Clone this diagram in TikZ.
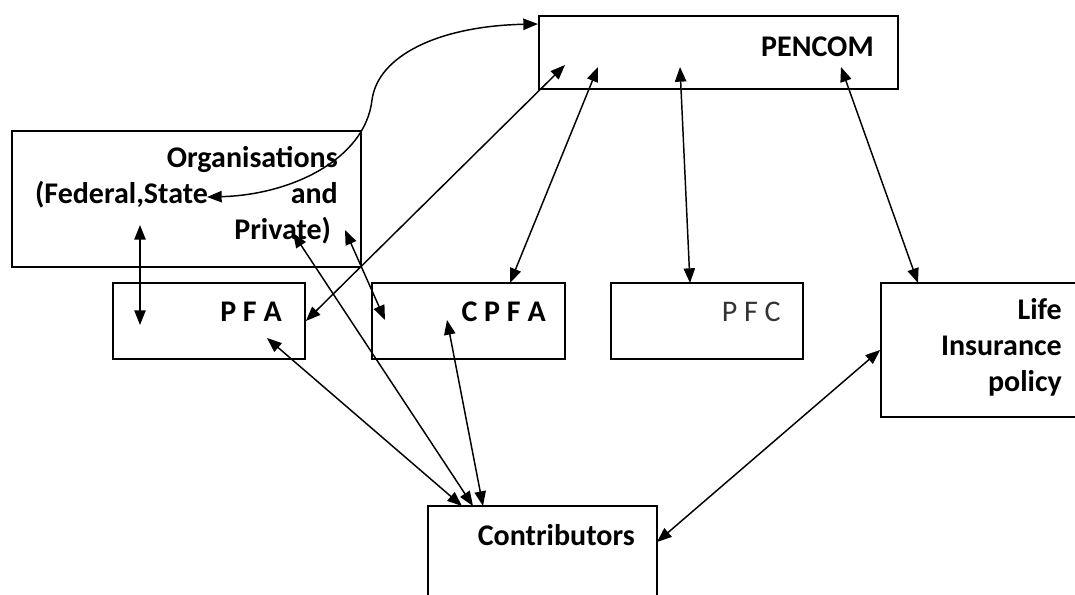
\documentclass[tikz,border=0pt]{standalone}
\usepackage{fontspec}
\setmainfont{Carlito}
\usetikzlibrary{arrows.meta,fit}

\begin{document}
\begin{tikzpicture}[x=0.75pt,y=0.75pt,yscale=-1,xscale=1,
  box/.style={draw, line width=1.3pt, inner sep=0pt},
  lbl/.style={inner sep=0pt, font=\fontsize{22.5}{27}\selectfont\bfseries, anchor=base east},
  link/.style={line width=1.1pt, {Triangle[length=11pt,width=8.5pt]}-{Triangle[length=11pt,width=8.5pt]}}]
\useasboundingbox (0,0) rectangle (1075,595);
\clip (0,0) rectangle (1075,595);

%Shape: Rectangle
\node[box, fit={(539,16) (898,89)}] (pencom) {};
%Shape: Rectangle
\node[box, fit={(12,131) (361,267)}] (org) {};
%Shape: Rectangle
\node[box, fit={(113,283) (305,359)}] (pfa) {};
%Shape: Rectangle
\node[box, fit={(372,283) (565,359)}] (cpfa) {};
%Shape: Rectangle
\node[box, fit={(611,283) (803,359)}] (pfc) {};
%Shape: Rectangle
\node[box, fit={(881,283) (1090,417)}] (life) {};
%Shape: Rectangle
\node[box, fit={(428,506) (657,610)}] (contrib) {};

% Text Node
\node[lbl] (pencomtxt) at (874,57) {PENCOM};
% Text Node (base = last line)
\node[lbl, align=right] (orgtxt) at (338,240) {Organisations\\\hbox to 227pt{(Federal,State\hfill and}\\\hbox{Private)\kern5pt}};
% Text Node
\node[lbl] (pfatxt) at (282,322) {P F A};
% Text Node
\node[lbl] (cpfatxt) at (546,322) {C P F A};
% Text Node
\node[lbl, font=\fontsize{22.5}{27}\selectfont, text=black!80] (pfctxt) at (781,322) {P F C};
% Text Node (base = last line)
\node[lbl, align=right] (lifetxt) at (1062,392) {Life\\Insurance\\policy};
% Text Node
\node[lbl] (contribtxt) at (635,545) {Contributors};

% arrow ends
\coordinate (orgS) at (207,197);
\coordinate (pencomW) at (538,24);
\coordinate (orgB) at (140,225);
\coordinate (pfaA) at (140,325);
\coordinate (pencomA) at (565,65);
\coordinate (pencomB) at (598,67);
\coordinate (pencomC) at (680,67);
\coordinate (pencomD) at (841,67);
\coordinate (cpfaN) at (510,283);
\coordinate (pfcN) at (690,283);
\coordinate (lifeN) at (918,283);
\coordinate (pfaB) at (267,338);
\coordinate (orgP) at (293,233);
\coordinate (orgQ) at (345,230);
\coordinate (cpfaW) at (385,320);
\coordinate (cpfaA) at (447,320);
\coordinate (contribA) at (462,506);
\coordinate (contribB) at (473,506);
\coordinate (contribC) at (483,506);
\coordinate (contribE) at (657,542);

%Curve Lines
\draw[link] (orgS) .. controls (290,195) and (365,160) .. (372,100) .. controls (378,55) and (440,26) .. (pencomW);
%Straight Lines
\draw[link] (orgB) -- (pfaA);
\draw[link] (pencomA) -- (pfa.east);
\draw[link] (pencomB) -- (cpfaN);
\draw[link] (pencomC) -- (pfcN);
\draw[link] (pencomD) -- (lifeN);
\draw[link] (pfaB) -- (contribA);
\draw[link] (orgP) -- (contribB);
\draw[link] (cpfaA) -- (contribC);
\draw[link] (orgQ) -- (cpfaW);
\draw[link] (contribE) -- (life.west);

\end{tikzpicture}
\end{document}
